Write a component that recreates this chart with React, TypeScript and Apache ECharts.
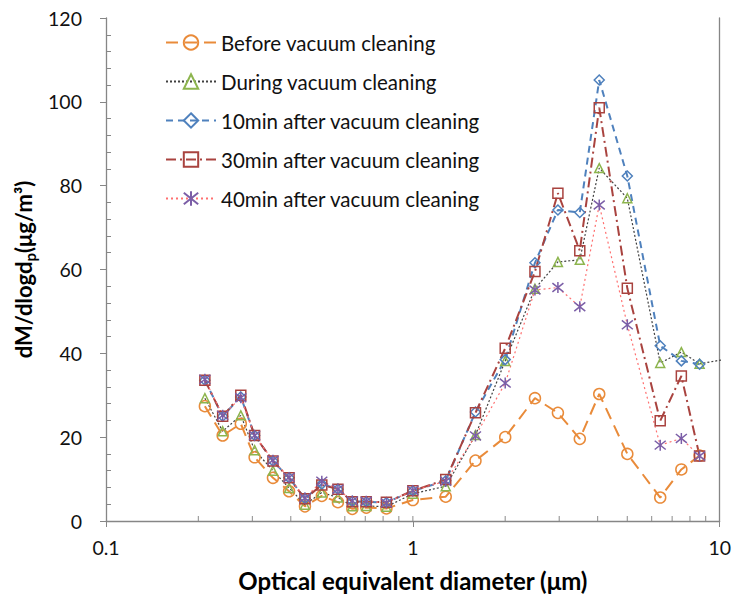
import React, { useEffect, useRef } from "react";
import * as echarts from "echarts";

// Optical equivalent diameter (µm) of each size channel (last one only used by "During", beyond the axis)
const diameters = [0.21, 0.24, 0.275, 0.305, 0.35, 0.395, 0.445, 0.505, 0.57, 0.635, 0.705, 0.82, 1.0, 1.28, 1.6, 2.0, 2.5, 2.97, 3.5, 4.05, 5.0, 6.4, 7.5, 8.6, 12.5];

const seriesNames = [
  "Before vacuum cleaning",
  "During vacuum cleaning",
  "10min after vacuum cleaning",
  "30min after vacuum cleaning",
  "40min after vacuum cleaning",
];

const beforeVals = [27.4, 20.4, 23.2, 15.2, 10.3, 7.1, 3.5, 6.0, 4.5, 2.9, 3.2, 3.0, 5.0, 5.8, 14.4, 20.0, 29.3, 25.8, 19.6, 30.3, 16.0, 5.6, 12.3, 15.6];
const duringVals = [29.3, 21.4, 25.2, 16.9, 12.0, 7.9, 3.9, 6.8, 5.6, 3.5, 3.6, 3.4, 6.5, 8.3, 20.5, 38.2, 55.4, 61.8, 62.3, 84.2, 77.0, 37.7, 40.3, 37.5, 39.6];
const min10Vals = [33.6, 25.0, 29.6, 20.4, 14.3, 10.3, 5.4, 8.8, 7.6, 4.7, 4.6, 4.4, 7.2, 9.6, 26.0, 38.5, 61.6, 74.2, 73.6, 105.2, 82.3, 41.8, 38.2, 37.4];
const min30Vals = [33.6, 25.0, 30.0, 20.4, 14.3, 10.3, 5.3, 8.6, 7.6, 4.6, 4.6, 4.5, 7.2, 9.9, 25.8, 41.2, 59.5, 78.2, 64.5, 98.6, 55.5, 23.9, 34.6, 15.5];
const min40Vals = [33.8, 25.2, 29.4, 20.4, 14.5, 10.4, 5.5, 9.5, 7.6, 4.8, 4.7, 4.3, 7.3, 9.5, 20.3, 32.9, 55.1, 55.7, 51.1, 75.4, 46.8, 18.1, 19.7, 15.5];

// x-axis minor tick positions (log axis)
const xMinorTicks = [0.2, 0.3, 0.4, 0.5, 0.6, 0.7, 0.8, 0.9, 1, 2, 3, 4, 5, 6, 7, 8, 9];

const FONT = "Lato";
const AXIS_COLOR = "#868686";

const toPairs = (vals: number[]) => vals.map((v, i) => [diameters[i], v]);

export default function App() {
  const ref = useRef<HTMLDivElement>(null);

  useEffect(() => {
    if (!ref.current) return;
    const chart = echarts.init(ref.current, undefined, { renderer: "svg" });

    const mk = (
      name: string,
      vals: number[],
      lineColor: string,
      lineWidth: number,
      dash: number[],
      symbol: string,
      symbolSize: number,
      markerColor: string,
      clip = true
    ) => ({
      name,
      type: "line",
      data: toPairs(vals),
      clip,
      symbol,
      symbolSize,
      showAllSymbol: true,
      lineStyle: { color: lineColor, width: lineWidth, type: dash },
      itemStyle: { color: "rgba(255,255,255,0)", borderColor: markerColor, borderWidth: 1.5 },
      emphasis: { disabled: true },
    });

    const option: any = {
      animation: false,
      textStyle: { fontFamily: FONT },
      grid: { left: 106, right: 13, top: 18, bottom: 84, containLabel: false },
      legend: {
        data: seriesNames,
        orient: "vertical",
        left: 160,
        top: 27,
        itemWidth: 50,
        itemHeight: 18,
        itemGap: 18,
        textStyle: { fontFamily: FONT, fontSize: 20.5, color: "#111" },
        selectedMode: false,
      },
      xAxis: [
        {
          type: "log",
          logBase: 10,
          min: 0.1,
          max: 10,
          axisLine: { show: true, onZero: false, lineStyle: { color: AXIS_COLOR, width: 1.3 } },
          axisTick: { show: true, inside: false, length: 6, lineStyle: { color: AXIS_COLOR } },
          axisLabel: {
            fontFamily: FONT,
            fontSize: 19.5,
            color: "#111",
            margin: 16,
            formatter: (v: number) => String(v),
          },
          splitLine: { show: false },
          name: "Optical equivalent diameter (μm)",
          nameLocation: "middle",
          nameGap: 47,
          nameTextStyle: { fontFamily: FONT, fontSize: 24, fontWeight: "bold", color: "#000" },
        },
      ],
      yAxis: [
        {
          type: "value",
          min: 0,
          max: 120,
          interval: 20,
          position: "left",
          axisLine: { show: true, onZero: false, lineStyle: { color: AXIS_COLOR, width: 1.3 } },
          axisTick: { show: true, inside: false, length: 6, lineStyle: { color: AXIS_COLOR } },
          axisLabel: { fontFamily: FONT, fontSize: 19.5, color: "#111", margin: 24 },
          splitLine: { show: false },
          name: "{a|dM/dlogd}{sub|p}{a|(μg/m³)}",
          nameLocation: "middle",
          nameRotate: 90,
          nameGap: 60,
          nameTextStyle: {
            rich: {
              a: { fontFamily: FONT, fontSize: 22, fontWeight: "bold", color: "#000", lineHeight: 28, verticalAlign: "middle" },
              sub: { fontFamily: FONT, fontSize: 15, fontWeight: "bold", color: "#000", lineHeight: 12, verticalAlign: "bottom" },
            },
          },
        },
        {
          type: "value",
          min: 0,
          max: 120,
          interval: 20,
          position: "left",
          offset: 0,
          axisLine: { show: false, onZero: false },
          axisTick: { show: false, inside: true },
          minorTick: { show: true, splitNumber: 5, length: 5, lineStyle: { color: AXIS_COLOR } },
          axisLabel: { show: false },
          splitLine: { show: false },
        },
        {
          type: "value",
          min: 0,
          max: 120,
          interval: 20,
          position: "right",
          axisLine: { show: true, onZero: false, lineStyle: { color: AXIS_COLOR, width: 1.3 } },
          axisTick: { show: false },
          axisLabel: { show: false },
          splitLine: { show: false },
        },
      ],
      series: [
        {
          name: "xMinorTicks",
          type: "scatter",
          data: xMinorTicks.map((v) => [v, 0]),
          symbol: "rect",
          symbolSize: [1.2, 5],
          symbolOffset: [0, -2.5],
          itemStyle: { color: AXIS_COLOR },
          silent: true,
          clip: false,
          z: 1,
        },
        mk(seriesNames[0], beforeVals, "#E98B3A", 2, [12, 7], "circle", 11, "#E98B3A"),
        mk(seriesNames[1], duringVals, "#404040", 1.2, [2, 2], "triangle", 9, "#8DB54E", false),
        mk(seriesNames[2], min10Vals, "#4F81BD", 2, [7, 5], "diamond", 10, "#4F81BD"),
        mk(seriesNames[3], min30Vals, "#A9433F", 2, [10, 4, 2, 4], "rect", 10, "#A9433F"),
        mk(
          seriesNames[4],
          min40Vals,
          "#FF7070",
          1.2,
          [2, 3],
          "path://M1,1L9,9M9,1L1,9M5,0L5,10",
          11,
          "#7B5EA7"
        ),
      ],
    };

    chart.setOption(option);
    return () => chart.dispose();
  }, []);

  return (
    <div
      ref={ref}
      style={{ position: "absolute", left: 0, top: 0, width: 734, height: 605, background: "#fff" }}
    />
  );
}
